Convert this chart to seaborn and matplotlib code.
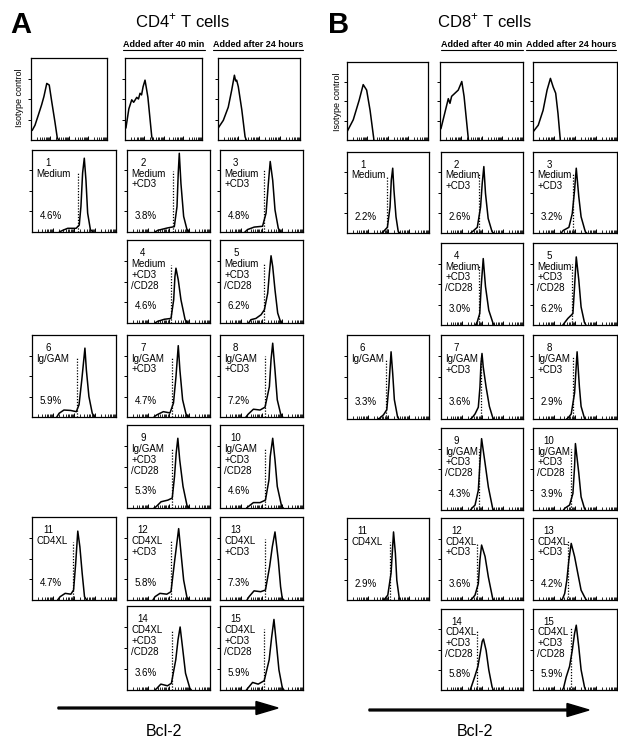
import matplotlib
matplotlib.use("Agg")
import matplotlib.pyplot as plt
import seaborn as sns
import numpy as np
from matplotlib.patches import FancyArrow
from matplotlib.ticker import FixedLocator

# ---- data (x in log decades 0-4, y as fraction of panel height) ----

conditions = [["Medium"], ["Medium", "+CD3"], ["Medium", "+CD3"],
              ["Medium", "+CD3", "/CD28"], ["Medium", "+CD3", "/CD28"],
              ["Ig/GAM"], ["Ig/GAM", "+CD3"], ["Ig/GAM", "+CD3"],
              ["Ig/GAM", "+CD3", "/CD28"], ["Ig/GAM", "+CD3", "/CD28"],
              ["CD4XL"], ["CD4XL", "+CD3"], ["CD4XL", "+CD3"],
              ["CD4XL", "+CD3", "/CD28"], ["CD4XL", "+CD3", "/CD28"]]

cd4_pct = ["4.6%", "3.8%", "4.8%", "4.6%", "6.2%", "5.9%", "4.7%", "7.2%",
           "5.3%", "4.6%", "4.7%", "5.8%", "7.3%", "3.6%", "5.9%"]
cd8_pct = ["2.2%", "2.6%", "3.2%", "3.0%", "6.2%", "3.3%", "3.6%", "2.9%",
           "4.3%", "3.9%", "2.9%", "3.6%", "4.2%", "5.8%", "5.9%"]

# dotted marker: position and height
cd4_gate_x = [2.17, 2.20, 2.14, 2.12, 2.14, 2.16, 2.15, 2.17, 2.18, 2.19, 1.95, 2.12, 2.19, 2.19, 2.13]
cd4_gate_h = [0.72, 0.74, 0.76, 0.70, 0.72, 0.72, 0.73, 0.74, 0.72, 0.72, 0.70, 0.72, 0.74, 0.71, 0.73]
cd8_gate_x = [1.97, 1.85, 1.90, 1.85, 1.87, 1.91, 1.93, 1.90, 1.85, 1.82, 2.12, 1.74, 1.66, 1.77, 1.79]
cd8_gate_h = [0.70, 0.74, 0.74, 0.73, 0.75, 0.72, 0.74, 0.74, 0.75, 0.75, 0.71, 0.69, 0.73, 0.74, 0.76]

cd4_iso_x = [[0, 0.07, 0.21, 0.38, 0.56, 0.68, 0.83, 0.96, 1.09, 1.26, 1.38, 1.45],
             [0, 0.05, 0.20, 0.35, 0.45, 0.61, 0.70, 0.78, 0.86, 0.94, 1.04, 1.12, 1.19, 1.39, 1.45],
             [0, 0.02, 0.26, 0.50, 0.67, 0.80, 0.86, 0.91, 0.99, 1.16, 1.32, 1.38]]
cd4_iso_y = [[0.11, 0.12, 0.18, 0.30, 0.43, 0.53, 0.69, 0.67, 0.47, 0.22, 0.03, 0],
             [0.13, 0.15, 0.38, 0.49, 0.46, 0.52, 0.50, 0.57, 0.55, 0.65, 0.73, 0.62, 0.52, 0.04, 0],
             [0.14, 0.15, 0.24, 0.40, 0.61, 0.79, 0.72, 0.73, 0.65, 0.37, 0.04, 0]]
cd8_iso_x = [[0, 0.01, 0.31, 0.60, 0.80, 0.97, 1.14, 1.33],
             [0, 0.05, 0.40, 0.48, 0.56, 0.72, 0.88, 1.05, 1.16, 1.37],
             [0, 0.02, 0.25, 0.48, 0.67, 0.83, 0.96, 1.08, 1.19, 1.30]]
cd8_iso_y = [[0.10, 0.11, 0.26, 0.51, 0.71, 0.64, 0.38, 0],
             [0.13, 0.15, 0.53, 0.47, 0.56, 0.60, 0.64, 0.75, 0.56, 0],
             [0.10, 0.11, 0.19, 0.38, 0.64, 0.79, 0.68, 0.60, 0.34, 0]]

cd4_x = [[1.30, 1.46, 1.70, 2.10, 2.25, 2.33, 2.41, 2.49, 2.57, 2.65, 2.78, 2.90],
         [1.35, 1.48, 1.96, 2.28, 2.41, 2.47, 2.52, 2.60, 2.73, 2.89, 3.00],
         [1.20, 1.33, 1.65, 2.05, 2.22, 2.33, 2.42, 2.54, 2.65, 2.81, 2.92],
         [1.35, 1.48, 1.80, 2.12, 2.25, 2.31, 2.36, 2.47, 2.60, 2.80, 2.92],
         [1.38, 1.49, 1.73, 1.98, 2.14, 2.30, 2.38, 2.46, 2.54, 2.65, 2.78, 2.91, 3.00],
         [1.18, 1.29, 1.52, 1.84, 2.11, 2.24, 2.37, 2.52, 2.59, 2.71, 2.87, 2.98],
         [1.30, 1.43, 1.75, 2.07, 2.24, 2.36, 2.47, 2.55, 2.68, 2.84, 2.95],
         [1.25, 1.36, 1.61, 1.93, 2.17, 2.38, 2.46, 2.54, 2.65, 2.76, 2.92, 3.02],
         [1.30, 1.40, 1.64, 1.97, 2.18, 2.29, 2.37, 2.45, 2.54, 2.70, 2.90, 3.00],
         [1.28, 1.38, 1.61, 1.93, 2.19, 2.36, 2.42, 2.54, 2.65, 2.76, 2.97, 3.05],
         [1.22, 1.34, 1.58, 1.85, 1.98, 2.08, 2.18, 2.28, 2.39, 2.50, 2.60],
         [1.25, 1.35, 1.59, 1.92, 2.12, 2.30, 2.49, 2.62, 2.73, 2.89, 2.98],
         [1.30, 1.40, 1.64, 1.96, 2.19, 2.39, 2.52, 2.65, 2.81, 2.92, 3.00, 3.08],
         [1.35, 1.44, 1.63, 1.95, 2.14, 2.35, 2.46, 2.56, 2.67, 2.82, 3.03, 3.10],
         [1.27, 1.37, 1.57, 1.84, 2.13, 2.37, 2.49, 2.60, 2.73, 2.84, 3.00, 3.08]]
cd4_y = [[0, 0.02, 0.045, 0.045, 0.085, 0.31, 0.72, 0.90, 0.63, 0.23, 0.03, 0],
         [0, 0.02, 0.05, 0.065, 0.31, 0.72, 0.96, 0.59, 0.19, 0.03, 0],
         [0, 0.03, 0.06, 0.07, 0.23, 0.59, 0.86, 0.63, 0.27, 0.045, 0],
         [0, 0.02, 0.045, 0.055, 0.28, 0.56, 0.66, 0.52, 0.28, 0.04, 0],
         [0, 0.04, 0.055, 0.10, 0.16, 0.36, 0.60, 0.81, 0.68, 0.40, 0.12, 0.02, 0],
         [0, 0.045, 0.085, 0.08, 0.065, 0.15, 0.45, 0.84, 0.57, 0.25, 0.045, 0],
         [0, 0.025, 0.065, 0.05, 0.17, 0.49, 0.87, 0.57, 0.21, 0.04, 0],
         [0, 0.035, 0.095, 0.085, 0.12, 0.37, 0.70, 0.90, 0.57, 0.21, 0.04, 0],
         [0, 0.015, 0.075, 0.095, 0.12, 0.38, 0.66, 0.84, 0.58, 0.26, 0.02, 0],
         [0, 0.02, 0.065, 0.065, 0.095, 0.34, 0.62, 0.84, 0.58, 0.26, 0.02, 0],
         [0, 0.04, 0.08, 0.07, 0.12, 0.44, 0.83, 0.64, 0.32, 0.04, 0],
         [0, 0.04, 0.08, 0.07, 0.10, 0.48, 0.86, 0.52, 0.24, 0.03, 0],
         [0, 0.04, 0.11, 0.10, 0.12, 0.40, 0.64, 0.82, 0.48, 0.16, 0.02, 0],
         [0, 0.02, 0.07, 0.05, 0.08, 0.36, 0.60, 0.75, 0.52, 0.20, 0.02, 0],
         [0, 0.03, 0.09, 0.07, 0.11, 0.36, 0.63, 0.84, 0.52, 0.24, 0.03, 0]]

cd8_x = [[1.70, 1.77, 1.97, 2.10, 2.16, 2.23, 2.29, 2.39, 2.50, 2.58],
         [1.45, 1.53, 1.77, 1.93, 2.01, 2.09, 2.17, 2.30, 2.49, 2.56],
         [1.35, 1.43, 1.71, 1.87, 1.98, 2.06, 2.18, 2.29, 2.49, 2.56],
         [1.69, 1.77, 1.89, 1.96, 2.06, 2.17, 2.33, 2.54, 2.60],
         [1.42, 1.51, 1.66, 1.90, 1.98, 2.06, 2.18, 2.29, 2.45, 2.52],
         [1.52, 1.59, 1.78, 1.94, 2.04, 2.15, 2.23, 2.31, 2.47, 2.53],
         [1.44, 1.50, 1.66, 1.82, 1.90, 1.95, 2.00, 2.06, 2.20, 2.36, 2.52, 2.58],
         [1.60, 1.66, 1.82, 1.98, 2.10, 2.21, 2.29, 2.45, 2.50],
         [1.44, 1.50, 1.66, 1.82, 1.90, 1.98, 2.15, 2.31, 2.52, 2.58],
         [1.45, 1.51, 1.74, 1.90, 1.98, 2.02, 2.18, 2.29, 2.45, 2.50],
         [1.77, 1.83, 1.99, 2.15, 2.27, 2.36, 2.43, 2.55, 2.60],
         [1.44, 1.50, 1.66, 1.82, 1.90, 1.98, 2.15, 2.31, 2.52, 2.58],
         [1.34, 1.40, 1.51, 1.61, 1.71, 1.82, 1.98, 2.13, 2.29, 2.49, 2.55],
         [1.42, 1.48, 1.64, 1.80, 1.91, 2.01, 2.07, 2.20, 2.33, 2.49, 2.55],
         [1.40, 1.46, 1.58, 1.74, 1.87, 1.98, 2.06, 2.18, 2.29, 2.45, 2.50]]
cd8_y = [[0, 0.016, 0.07, 0.32, 0.65, 0.80, 0.53, 0.20, 0.016, 0],
         [0, 0.016, 0.07, 0.32, 0.61, 0.82, 0.49, 0.18, 0.016, 0],
         [0, 0.03, 0.07, 0.24, 0.53, 0.80, 0.45, 0.20, 0.016, 0],
         [0, 0.04, 0.14, 0.47, 0.81, 0.47, 0.18, 0.02, 0],
         [0, 0.03, 0.08, 0.14, 0.47, 0.83, 0.55, 0.22, 0.03, 0],
         [0, 0.01, 0.05, 0.11, 0.38, 0.80, 0.54, 0.23, 0.02, 0],
         [0, 0.01, 0.06, 0.14, 0.38, 0.66, 0.78, 0.62, 0.38, 0.15, 0.02, 0],
         [0, 0.01, 0.06, 0.31, 0.80, 0.38, 0.15, 0.01, 0],
         [0, 0.02, 0.06, 0.24, 0.57, 0.87, 0.57, 0.28, 0.02, 0],
         [0, 0.02, 0.06, 0.20, 0.53, 0.81, 0.45, 0.16, 0.02, 0],
         [0, 0.01, 0.06, 0.33, 0.83, 0.57, 0.24, 0.02, 0],
         [0, 0.01, 0.06, 0.20, 0.49, 0.67, 0.53, 0.28, 0.02, 0],
         [0, 0.01, 0.08, 0.24, 0.49, 0.69, 0.53, 0.33, 0.12, 0.02, 0],
         [0, 0.04, 0.16, 0.29, 0.45, 0.60, 0.63, 0.49, 0.25, 0.04, 0],
         [0, 0.03, 0.16, 0.29, 0.49, 0.70, 0.80, 0.53, 0.25, 0.04, 0]]

# ---- layout (pixels) ----
W, H = 618, 738
panel_cells = [(1, 0), (1, 1), (1, 2), (2, 1), (2, 2), (3, 0), (3, 1), (3, 2),
               (4, 1), (4, 2), (5, 0), (5, 1), (5, 2), (6, 1), (6, 2)]

a_cols = [(32, 116), (127, 210), (220, 303)]
a_iso_cols = [(31, 107), (125, 202), (218, 300)]
a_rows = [(58, 140), (150, 232), (240, 323), (335, 417), (425, 508), (517, 600), (606, 690)]
b_cols = [(347, 429), (441, 523), (533, 617)]
b_iso_cols = [(347, 428), (440, 523), (533, 617)]
b_rows = [(62, 140), (152, 233), (243, 325), (335, 419), (428, 510), (518, 600), (609, 690)]

sns.set_style("ticks")
plt.rcParams['font.family'] = ['Liberation Sans', 'DejaVu Sans']
plt.rcParams['mathtext.fontset'] = 'custom'
plt.rcParams['mathtext.rm'] = 'Liberation Sans'
plt.rcParams['text.color'] = 'black'
plt.rcParams['xtick.color'] = 'black'
plt.rcParams['ytick.color'] = 'black'

fig = plt.figure(figsize=(W / 100, H / 100), dpi=100)

major = [0, 1, 2, 3, 4]
minor = [d + np.log10(k) for d in range(4) for k in range(2, 10)]


def px_axes(xr, yr):
    x0, x1 = xr
    y0, y1 = yr
    return fig.add_axes([x0 / W, 1 - y1 / H, (x1 - x0) / W, (y1 - y0) / H])


def draw_hist(ax, xs, ys, gx=None, gh=None):
    sns.lineplot(x=xs, y=ys, ax=ax, color='black', linewidth=1.1,
                 sort=False, estimator=None)
    if gx is not None:
        ax.plot([gx, gx], [0, gh], color='black', lw=0.9, ls=(0, (1.0, 1.3)))
    ax.set_xlim(0, 4)
    ax.set_ylim(0, 1)
    ax.xaxis.set_major_locator(FixedLocator(major))
    ax.xaxis.set_minor_locator(FixedLocator(minor))
    ax.set_yticks([0.25, 0.5, 0.75])
    ax.tick_params(axis='x', which='major', direction='in', length=3, width=0.7)
    ax.tick_params(axis='x', which='minor', direction='in', length=2, width=0.6)
    ax.tick_params(axis='y', direction='out', length=2, width=0.7)
    ax.tick_params(labelbottom=False, labelleft=False)
    for s in ax.spines.values():
        s.set_linewidth(0.9)
        s.set_color('black')
    ax.set_xlabel('')
    ax.set_ylabel('')


def draw_block(cols, iso_cols, rows, iso_x, iso_y, cx, cy, gate_x, gate_h, pcts):
    for i in range(3):
        ax = px_axes(iso_cols[i], rows[0])
        draw_hist(ax, iso_x[i], iso_y[i])
    for k, (r, c) in enumerate(panel_cells):
        ax = px_axes(cols[c], rows[r])
        draw_hist(ax, cx[k], cy[k], gate_x[k], gate_h[k])
        ax.text(0.19, 0.84, str(k + 1), transform=ax.transAxes, fontsize=7,
                ha='center', va='center')
        for j, line in enumerate(conditions[k]):
            ax.text(0.05, 0.71 - 0.13 * j, line, transform=ax.transAxes,
                    fontsize=7, ha='left', va='center')
        ax.text(0.09, 0.20, pcts[k], transform=ax.transAxes, fontsize=7,
                ha='left', va='center')


draw_block(a_cols, a_iso_cols, a_rows, cd4_iso_x, cd4_iso_y, cd4_x, cd4_y,
           cd4_gate_x, cd4_gate_h, cd4_pct)
draw_block(b_cols, b_iso_cols, b_rows, cd8_iso_x, cd8_iso_y, cd8_x, cd8_y,
           cd8_gate_x, cd8_gate_h, cd8_pct)

# overlay in pixel coordinates for titles, arrows, labels
ov = fig.add_axes([0, 0, 1, 1])
ov.set_xlim(0, W)
ov.set_ylim(H, 0)
ov.axis('off')
ov.patch.set_alpha(0)

ov.text(10, 33, 'A', fontsize=21, fontweight='bold', va='baseline')
ov.text(328, 33, 'B', fontsize=21, fontweight='bold', va='baseline')
ov.text(182, 27, 'CD4$^{+}$ T cells', fontsize=12, ha='center', va='baseline')
ov.text(484, 27, 'CD8$^{+}$ T cells', fontsize=12, ha='center', va='baseline')

headers = [ov.text(164, 47, 'Added after 40 min', fontsize=6.5, fontweight='bold', ha='center', va='baseline'),
           ov.text(258, 47, 'Added after 24 hours', fontsize=6.5, fontweight='bold', ha='center', va='baseline'),
           ov.text(482, 47, 'Added after 40 min', fontsize=6.5, fontweight='bold', ha='center', va='baseline'),
           ov.text(526, 47, 'Added after 24 hours', fontsize=6.5, fontweight='bold', ha='left', va='baseline')]

ov.text(19, 98, 'Isotype control', fontsize=6.5, rotation=90, ha='center', va='center')
ov.text(338, 102, 'Isotype control', fontsize=6.5, rotation=90, ha='center', va='center')

ov.text(164, 736, 'Bcl-2', fontsize=11.5, ha='center', va='baseline')
ov.text(475, 736, 'Bcl-2', fontsize=11.5, ha='center', va='baseline')

ov.add_patch(FancyArrow(58, 708, 220, 0, width=1.8, head_width=13, head_length=22,
                        length_includes_head=True, color='black'))
ov.add_patch(FancyArrow(369, 710, 220, 0, width=1.8, head_width=13, head_length=22,
                        length_includes_head=True, color='black'))

# underline the column headers
fig.canvas.draw()
inv = ov.transData.inverted()
for t in headers:
    bb = t.get_window_extent()
    (x0, _), (x1, _) = inv.transform([(bb.x0, bb.y0), (bb.x1, bb.y0)])
    ov.plot([x0, min(x1, W)], [49.5, 49.5], color='black', lw=0.8)

fig.savefig('out.png', dpi=100)
